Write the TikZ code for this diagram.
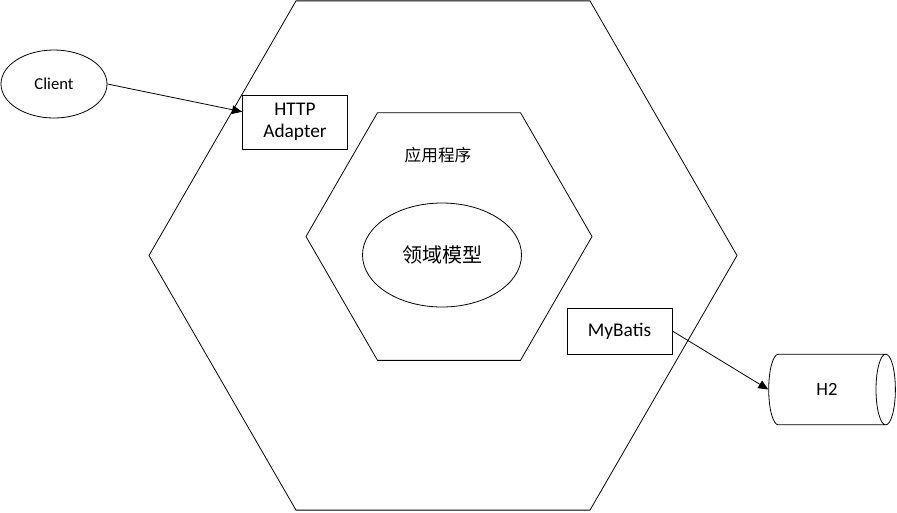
\documentclass[tikz,border=0pt]{standalone}
\usepackage{fontspec}
\setmainfont{Carlito}
\newfontfamily\cjk{Noto Sans CJK SC}
\usetikzlibrary{positioning, arrows.meta, shapes.geometric}

\begin{document}
\begin{tikzpicture}[
    x=0.75pt, y=-0.75pt,
    line width=0.6pt,
    % ---- hexagon layers ----
    hexa/.style={
        regular polygon,
        regular polygon sides=6,
        draw,
        inner sep=0pt,
        outer sep=0pt
    },
    % ---- adapter boxes ----
    adapter/.style={
        rectangle,
        draw,
        align=center,
        inner sep=0pt,
        minimum width=78.75pt,
        font=\fontsize{14.5}{16.5}\selectfont
    },
    % ---- ovals ----
    oval/.style={
        ellipse,
        draw,
        inner sep=0pt
    },
    % ---- database ----
    store/.style={
        cylinder,
        draw,
        aspect=1.6,
        inner sep=0pt,
        minimum width=53pt,
        minimum height=95pt,
        font=\fontsize{14}{16}\selectfont
    },
    % ---- arrows ----
    rel/.style={-{Triangle[length=7.5pt, width=6.5pt]}}
]

\useasboundingbox (0,0) rectangle (897,512);

% ---------- hexagons ----------
\node[hexa, minimum size=441pt] (Outer) at (443,255.5) {};
\node[hexa, minimum size=214.5pt] (Inner) at (449,236.5) {};

% ---------- core ----------
\node[oval, minimum width=119.25pt, minimum height=78pt,
    font=\cjk\fontsize{15}{17}\selectfont] (Domain) at (442,255) {领域模型};
\node[font=\cjk\fontsize{12.5}{14}\selectfont] (App) at (438,155) {应用程序};

% ---------- outside ----------
\node[oval, minimum width=79.5pt, minimum height=51pt,
    font=\fontsize{12.5}{14}\selectfont] (Client) at (54,84) {Client};
\node[adapter, minimum height=40.5pt] (Http) at (295,122) {HTTP\\Adapter};
\node[adapter, minimum height=34.5pt] (MyBatis) at (619.5,331) {MyBatis};
\node[store] (H2) at (827,389.5) {H2};

% ============================================================
%  connectors
% ============================================================

% Client -- HTTP Adapter
\draw[rel] (Client.east) -- (Http.169);

% MyBatis -- H2
\draw[rel] (MyBatis.east) -- (H2.west);

\end{tikzpicture}
\end{document}
